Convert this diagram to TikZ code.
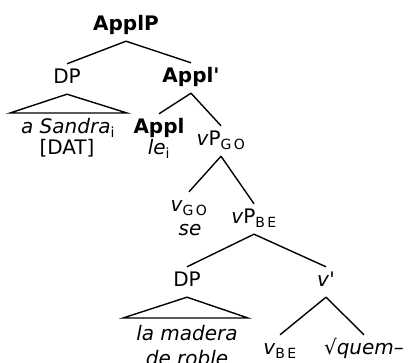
\documentclass[tikz,border=0pt]{standalone}
\usepackage{fontspec}
\setmainfont{DejaVu Sans}
\newcommand{\fsub}[1]{\textsubscript{#1}}
\tikzset{lbl/.style={anchor=base, inner xsep=1pt, inner ysep=4.5pt, text height=15pt, text depth=5pt,
    font=\fontsize{20}{24}\selectfont},
  cat/.style={lbl, font=\fontsize{20}{24}\selectfont\bfseries}}

\begin{document}
\begin{tikzpicture}[x=1pt, y=-1pt, line width=1.4pt]
    \useasboundingbox (0,0) rectangle (410,363);
    % upper part
    \node[cat] (applp) at (126,31) {ApplP};
    \node[lbl] (dpdat) at (67,84) {DP};
    \node[cat] (applbar) at (191,83) {Appl\textquotesingle};
    \node[lbl] (sandra) at (68,134) {\textit{a Sandra}\fsub{i}};
    \node[lbl] (dat) at (67,155) {[DAT]};
    \node[cat] (appl) at (159,134) {Appl};
    \node[lbl] (le) at (159,155) {\textit{le}\fsub{i}};
    \node[lbl] (vpgo) at (221,146) {\textit{v}P\fsub{G\,O}};
    \node[lbl] (vgo) at (189,212) {\textit{v}\fsub{G\,O}};
    \node[lbl] (se) at (190,236) {\textit{se}};
    \node[lbl] (vpbe) at (254,224) {\textit{v}P\fsub{B\,E}};
    % lower part
    \node[lbl] (dpth) at (187,287) {DP};
    \node[lbl] (vbar) at (326,287) {\textit{v}\textquotesingle};
    \node[lbl] (madera) at (187,341) {\textit{la madera}};
    \node[lbl] (roble) at (187,366) {\textit{de roble}};
    \node[lbl] (vbe) at (280,355) {\textit{v}\fsub{B\,E}};
    \node[lbl] (quem) at (364,355) {√\textit{quem–}};
    \coordinate (t1l) at (10,113);
    \coordinate (t1r) at (127,113);
    \coordinate (t2l) at (123,318);
    \coordinate (t2r) at (248,318);

    \draw (applp.south) -- (dpdat.north);
    \draw (applp.south) -- (applbar.north);
    \draw (dpdat.south) -- (t1l) -- (t1r) -- cycle;
    \draw (applbar.south) -- (appl.north);
    \draw (applbar.south) -- (vpgo.north);
    \draw (vpgo.south) -- (vgo.north);
    \draw (vpgo.south) -- (vpbe.north);
    \draw (vpbe.south) -- (dpth.north);
    \draw (vpbe.south) -- (vbar.north);
    \draw (dpth.south) -- (t2l) -- (t2r) -- cycle;
    \draw (vbar.south) -- (vbe.north);
    \draw (vbar.south) -- (quem.north);
\end{tikzpicture}
\end{document}
